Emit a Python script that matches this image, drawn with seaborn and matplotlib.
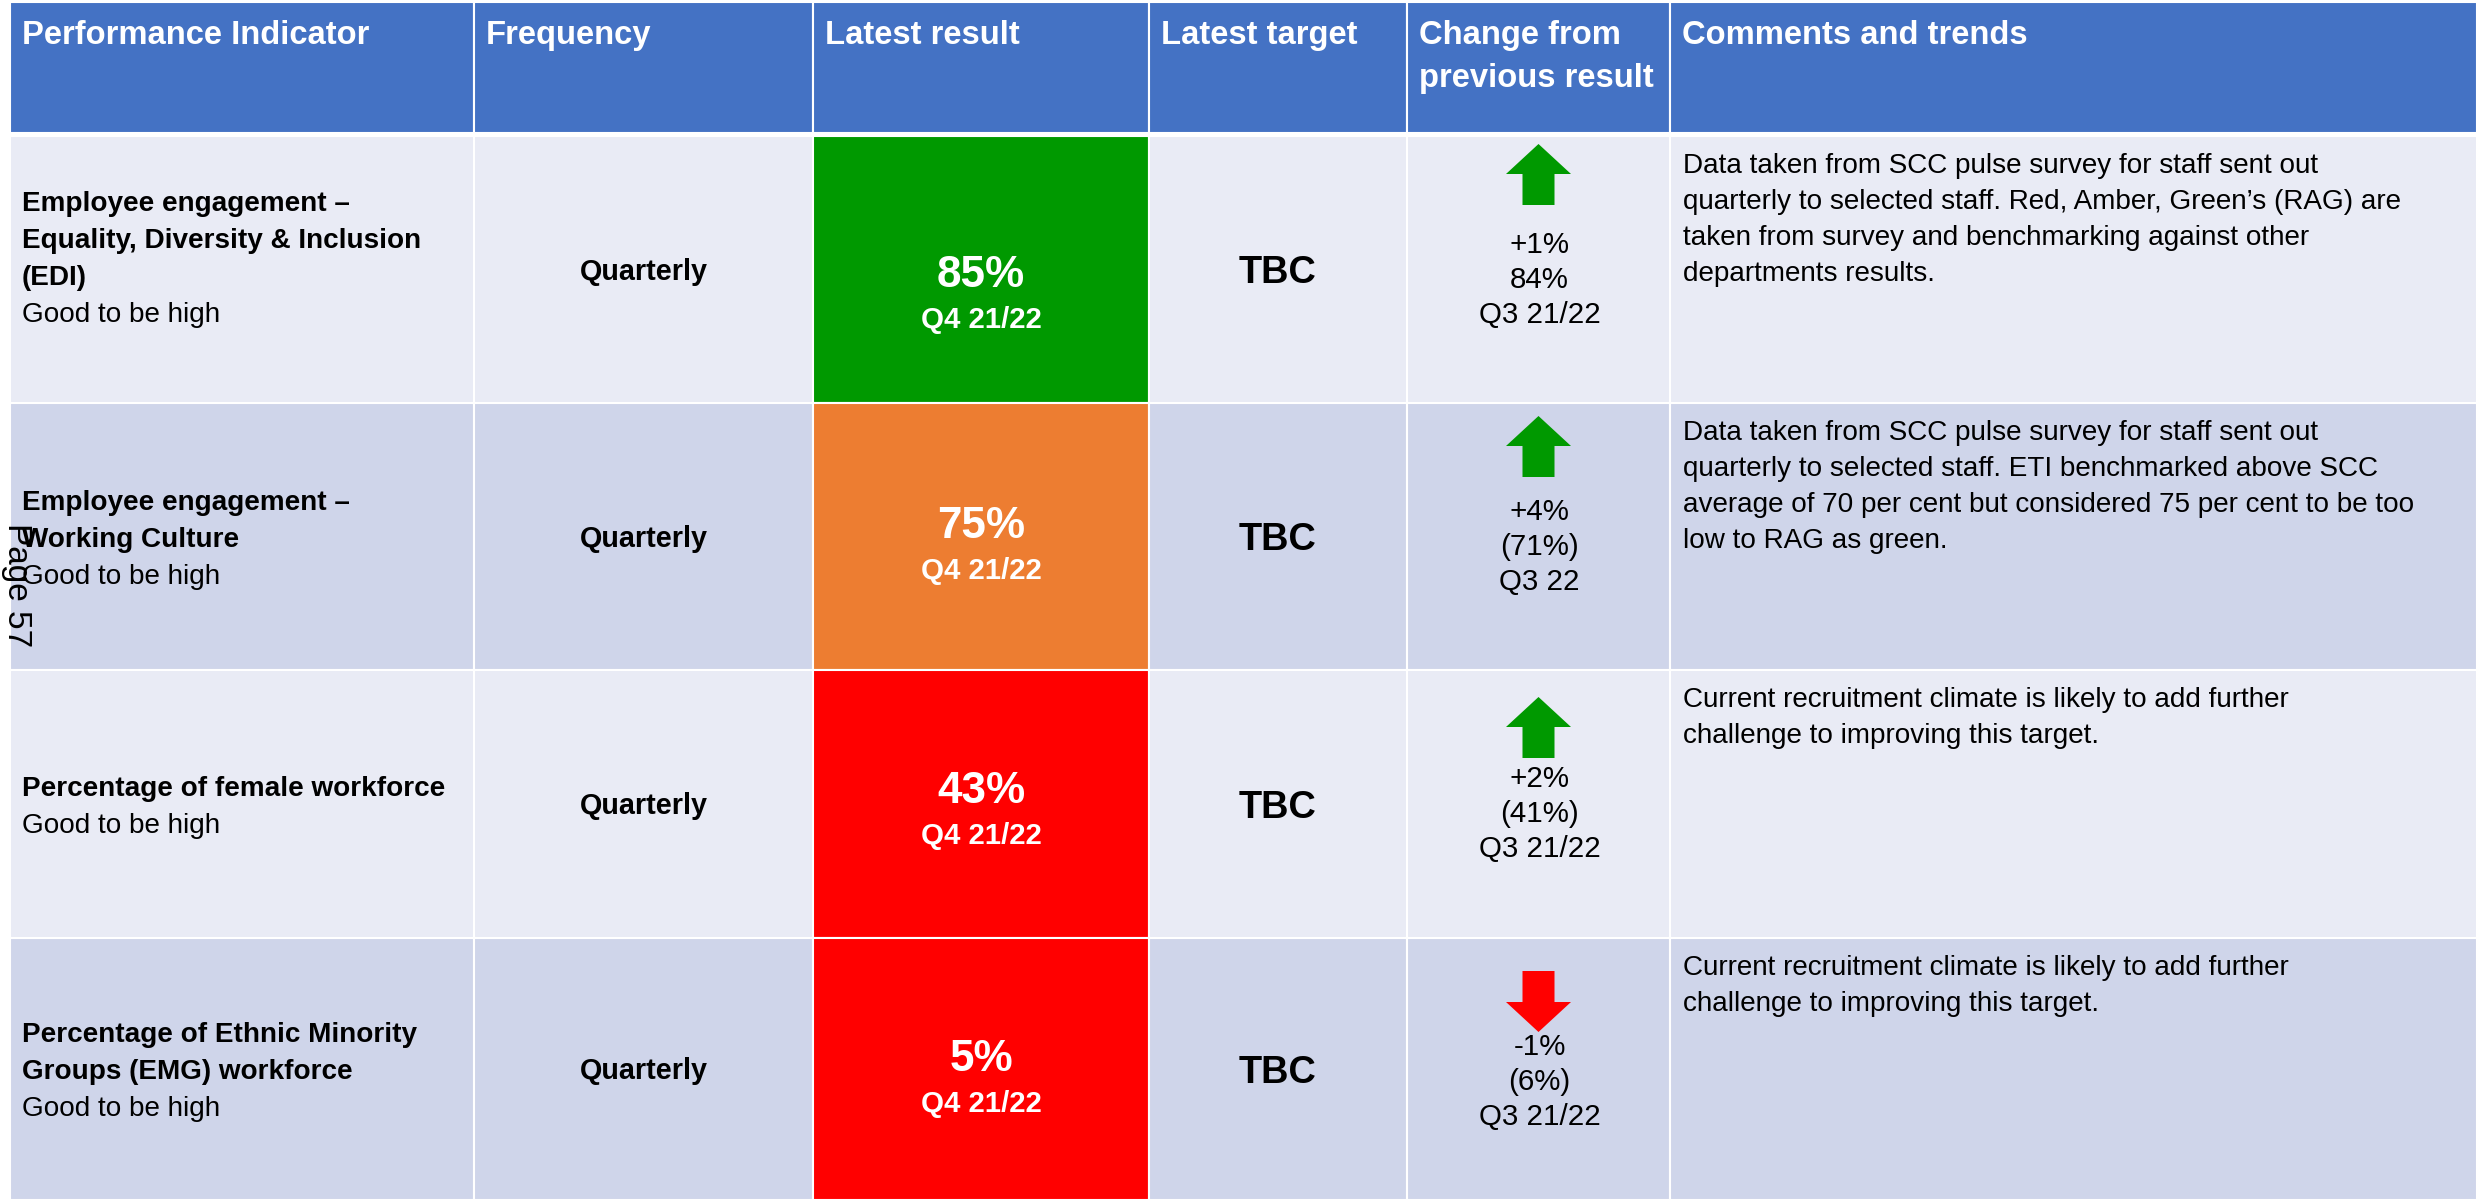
import numpy as np
import pandas as pd
import matplotlib
matplotlib.use("Agg")
import matplotlib.pyplot as plt
import seaborn as sns
from matplotlib.path import Path
from matplotlib import font_manager

# --- data -------------------------------------------------------------
headers = ["Performance Indicator", "Frequency", "Latest result", "Latest target",
           "Change from\nprevious result", "Comments and trends"]
indicator_title = [
    "Employee engagement –\nEquality, Diversity & Inclusion\n(EDI)",
    "Employee engagement –\nWorking Culture",
    "Percentage of female workforce",
    "Percentage of Ethnic Minority\nGroups (EMG) workforce",
]
indicator_note = ["Good to be high", "Good to be high", "Good to be high", "Good to be high"]
frequency = ["Quarterly", "Quarterly", "Quarterly", "Quarterly"]
latest_result = [85, 75, 43, 5]
latest_period = ["Q4 21/22", "Q4 21/22", "Q4 21/22", "Q4 21/22"]
rag = ["green", "amber", "red", "red"]
latest_target = ["TBC", "TBC", "TBC", "TBC"]
change = [1, 4, 2, -1]
previous_value = ["84%", "(71%)", "(41%)", "(6%)"]
previous_period = ["Q3 21/22", "Q3 22", "Q3 21/22", "Q3 21/22"]
comments = [
    "Data taken from SCC pulse survey for staff sent out\nquarterly to selected staff. Red, Amber, Green’s (RAG) are\n"
    "taken from survey and benchmarking against other\ndepartments results.",
    "Data taken from SCC pulse survey for staff sent out\nquarterly to selected staff. ETI benchmarked above SCC\n"
    "average of 70 per cent but considered 75 per cent to be too\nlow to RAG as green.",
    "Current recruitment climate is likely to add further\nchallenge to improving this target.",
    "Current recruitment climate is likely to add further\nchallenge to improving this target.",
]
page_label = "Page 57"

# --- layout (pixels) ---------------------------------------------------
W, H = 2484, 1200
col_edges = [10, 474, 813, 1149, 1407, 1670, 2477]
header_span = (2, 133)
row_edges = [136, 403, 670, 938, 1200]
indicator_shift = [-13, 0, 0, 0]
result_off = [135, 119, 117, 117]
arrow_tip_off = [8, 13, 27, 33]
change_text_off = 106
comment_off = 27
line_gap = 37
change_gap = 35
comment_gap = 36

header_color = "#4472C4"
row_colors = ["#E9EBF5", "#CFD5EA"]
rag_colors = {"green": "#009900", "amber": "#ED7D31", "red": "#FF0000"}
arrow_colors = {"up": "#009900", "down": "#FF0000"}

sns.set_theme(style="white")
names = {f.name for f in font_manager.fontManager.ttflist}
if "Liberation Sans Narrow" in names:
    body_font, k = "Liberation Sans Narrow", 1.0
else:
    body_font, k = "Liberation Sans", 0.84
plt.rcParams["font.family"] = [body_font, "DejaVu Sans"]

fs_body = 23 * k * 1.04
fs_change = 23 * k * 1.1
fs_freq = 23 * k * 1.07
fs_head = 26 * k * 1.08
fs_big = 32 * k * 1.18
fs_sub = 21 * k * 1.2
fs_tbc = 31 * k * 1.05

# --- cells -------------------------------------------------------------
cells = []
for c in range(len(headers)):
    cells.append(dict(x=col_edges[c], w=col_edges[c + 1] - col_edges[c],
                      y=header_span[0], h=header_span[1] - header_span[0], color=header_color))
for r in range(len(latest_result)):
    for c in range(len(headers)):
        color = rag_colors[rag[r]] if c == 2 else row_colors[r % 2]
        cells.append(dict(x=col_edges[c], w=col_edges[c + 1] - col_edges[c],
                          y=row_edges[r], h=row_edges[r + 1] - row_edges[r], color=color))
cells = pd.DataFrame(cells)

fig = plt.figure(figsize=(W / 100, H / 100), dpi=100)
fig.patch.set_facecolor("white")
ax = fig.add_axes([0, 0, 1, 1])
ax.bar(cells["x"], cells["h"], width=cells["w"], bottom=cells["y"], align="edge",
       color=cells["color"], edgecolor="white", linewidth=1.5, zorder=1)


def put(x, y, s, size, weight="normal", color="black", ha="left"):
    # y is the visual middle of the capitals, converted to a baseline
    base = y + 0.36 * size / 0.72
    ax.text(x, base, s, fontsize=size, fontweight=weight, color=color,
            ha=ha, va="baseline", zorder=4)


# header
for c, h in enumerate(headers):
    for i, line in enumerate(h.split("\n")):
        put(col_edges[c] + 12, 32 + i * 43, line, fs_head, "bold", "white")

centers = [(col_edges[c] + col_edges[c + 1]) / 2 for c in range(len(headers))]

for r in range(len(latest_result)):
    top, bot = row_edges[r], row_edges[r + 1]
    mid = (top + bot) / 2
    # indicator
    lines = [(t, "bold") for t in indicator_title[r].split("\n")] + [(indicator_note[r], "normal")]
    y0 = mid + indicator_shift[r] - (len(lines) - 1) * line_gap / 2
    for i, (t, wgt) in enumerate(lines):
        put(col_edges[0] + 12, y0 + i * line_gap, t, fs_body, wgt)
    # frequency
    put(centers[1], mid, frequency[r], fs_freq, "bold", ha="center")
    # latest result
    put(centers[2], top + result_off[r], f"{latest_result[r]}%", fs_big, "bold", "white", ha="center")
    put(centers[2], top + result_off[r] + 46, latest_period[r], fs_sub, "bold", "white", ha="center")
    # target
    put(centers[3], mid, latest_target[r], fs_tbc, "bold", ha="center")
    # change
    sign = "+" if change[r] > 0 else "-"
    ch_lines = [f"{sign}{abs(change[r])}%", previous_value[r], previous_period[r]]
    for i, t in enumerate(ch_lines):
        put(centers[4] + 1, top + change_text_off + i * change_gap, t, fs_change, ha="center")
    # comments
    for i, t in enumerate(comments[r].split("\n")):
        put(col_edges[5] + 13, top + comment_off + i * comment_gap, t, fs_body)

# arrows
half_w, half_h, shaft = 32.5, 30.5, 16
up_verts = [(0, half_h), (half_w, 0.5), (shaft, 0.5), (shaft, -half_h),
            (-shaft, -half_h), (-shaft, 0.5), (-half_w, 0.5), (0, half_h)]
up_path = Path(up_verts, closed=True)
down_path = Path([(x, -y) for x, y in up_verts], closed=True)

arrows = pd.DataFrame({
    "x": [centers[4]] * len(change),
    "y": [row_edges[r] + arrow_tip_off[r] + half_h for r in range(len(change))],
    "dir": ["up" if v > 0 else "down" for v in change],
})
sns.scatterplot(data=arrows, x="x", y="y", hue="dir", style="dir",
                markers={"up": up_path, "down": down_path}, palette=arrow_colors,
                s=(2 * half_w * 0.72) ** 2, linewidth=0, legend=False, ax=ax, zorder=3)

# page number
ax.text(16, 585, page_label, fontsize=24, rotation=270, ha="center", va="center",
        family=["Liberation Sans", "DejaVu Sans"], color="black", zorder=5)

ax.set_xlim(0, W)
ax.set_ylim(H, 0)
ax.axis("off")
fig.savefig("out.png", dpi=100, facecolor="white")
